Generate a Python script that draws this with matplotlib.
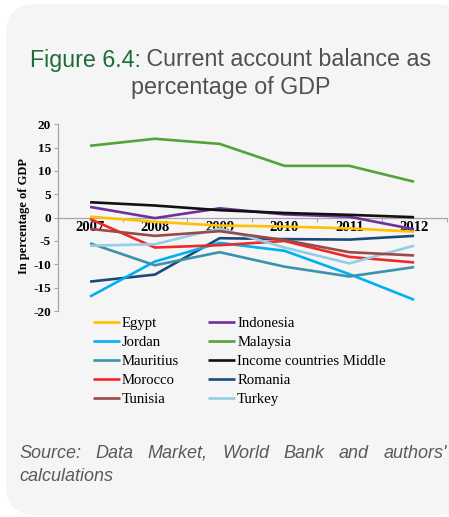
import matplotlib
matplotlib.use("Agg")
import matplotlib.pyplot as plt
from matplotlib.patches import FancyBboxPatch
from matplotlib.transforms import IdentityTransform
import numpy as np

plt.rcParams["font.family"] = ["Liberation Serif", "DejaVu Serif"]
plt.rcParams["font.weight"] = "bold"

years = ["2007", "2008", "2009", "2010", "2011", "2012"]
egypt = [0.2, -0.9, -1.7, -1.9, -2.3, -3.0]
jordan = [-16.9, -9.4, -5.4, -7.1, -12.1, -17.6]
mauritius = [-5.5, -10.2, -7.4, -10.5, -12.6, -10.6]
morocco = [-0.3, -6.4, -5.9, -5.0, -8.4, -9.6]
tunisia = [-2.4, -3.9, -2.9, -4.8, -7.4, -8.1]
indonesia = [2.3, -0.1, 2.0, 0.7, 0.2, -2.5]
malaysia = [15.4, 16.9, 15.8, 11.1, 11.1, 7.7]
middle_income = [3.3, 2.6, 1.6, 1.0, 0.6, 0.1]
romania = [-13.7, -12.2, -4.4, -4.6, -4.7, -3.9]
turkey = [-6.0, -5.7, -2.3, -6.4, -9.8, -6.0]
yticks = [-20, -15, -10, -5, 0, 5, 10, 15, 20]

series = [
    ("Egypt", egypt, "#FFC000"),
    ("Jordan", jordan, "#00B0F0"),
    ("Mauritius", mauritius, "#3A92AE"),
    ("Morocco", morocco, "#F02828"),
    ("Tunisia", tunisia, "#9B4848"),
    ("Indonesia", indonesia, "#7030A0"),
    ("Malaysia", malaysia, "#52A33A"),
    ("Income countries Middle", middle_income, "#111111"),
    ("Romania", romania, "#1B4A7A"),
    ("Turkey", turkey, "#95CDE3"),
]
draw_order = ["Malaysia", "Income countries Middle", "Indonesia", "Egypt", "Tunisia",
              "Turkey", "Morocco", "Mauritius", "Jordan", "Romania"]

W, H = 449, 517
fig = plt.figure(figsize=(W / 100, H / 100), dpi=100, facecolor="white")

panel = FancyBboxPatch((6, H - 515), 460, 511,
                       boxstyle="round,pad=0,rounding_size=30",
                       transform=IdentityTransform(), facecolor="#F5F5F5",
                       edgecolor="none", zorder=-10)
fig.patches.append(panel)

def px(x, y):
    return x / W, 1 - y / H

left, right = 57.7, 446.5
top, bottom = 124.3, 311.0
ax = fig.add_axes([left / W, 1 - bottom / H, (right - left) / W, (bottom - top) / H])
ax.set_facecolor("none")
ax.set_zorder(1)

x = np.arange(len(years))
handles = {}
for name, vals, col in series:
    (ln,) = ax.plot(x, vals, color=col, lw=1.9, label=name, solid_capstyle="butt",
                    zorder=3 + draw_order[::-1].index(name) * 0.1)
    handles[name] = ln

ax.set_xlim(-0.5, len(years) - 0.5)
ax.set_ylim(-20, 20)
ax.set_yticks(yticks)
ax.set_yticklabels([str(v) for v in yticks])
ax.set_xticks(x)
ax.set_xticklabels(years)
ax.set_xticks(np.arange(-0.5, len(years), 1.0), minor=True)
ax.tick_params(axis="x", which="major", length=0, pad=2.5, labelsize=10.5)
ax.tick_params(axis="x", which="minor", length=3, width=0.8, color="#A6A6A6", direction="out")
ax.tick_params(axis="y", length=3, width=0.8, color="#A6A6A6", pad=2, direction="out", labelsize=9.5)

for s in ["top", "right"]:
    ax.spines[s].set_visible(False)
ax.spines["bottom"].set_position(("data", 0))
ax.spines["bottom"].set_color("#A6A6A6")
ax.spines["bottom"].set_linewidth(0.9)
ax.spines["left"].set_color("#A6A6A6")
ax.spines["left"].set_linewidth(0.9)

fig.text(*px(24, 216.5), "In percentage of GDP", rotation=90, ha="center", va="center",
         fontfamily="Liberation Serif", fontweight="bold", fontsize=9)

leg = fig.legend([handles[n] for n, _, _ in series], [n for n, _, _ in series],
                 loc="upper left", bbox_to_anchor=px(93, 317), ncol=2, frameon=False,
                 prop={"family": "Liberation Serif", "size": 10.6, "weight": "normal"},
                 handlelength=1.8, handletextpad=0.15, labelspacing=0.38,
                 columnspacing=2.0, borderpad=0, borderaxespad=0)

renderer = fig.canvas.get_renderer()

tfont = dict(fontfamily="Liberation Sans", fontsize=16, fontweight="normal")
t1 = fig.text(0, 0, "Figure 6.4:", color="#1E6B3A", va="baseline", ha="left", **tfont)
t2 = fig.text(0, 0, " Current account balance as", color="#505050", va="baseline", ha="left", **tfont)
w1 = t1.get_window_extent(renderer).width
w2 = t2.get_window_extent(renderer).width
target_w = 403.0
scale = target_w / (w1 + w2)
t1.set_fontsize(16 * scale)
t2.set_fontsize(16 * scale)
w1 = t1.get_window_extent(renderer).width
w2 = t2.get_window_extent(renderer).width
cx = 230.5
x0 = cx - (w1 + w2) / 2
t1.set_position(px(x0, 66.5))
t2.set_position(px(x0 + w1, 66.5))
fig.text(*px(cx, 94), "percentage of GDP", color="#505050", va="baseline", ha="center",
         fontfamily="Liberation Sans", fontsize=16 * scale, fontweight="normal")

sfont = dict(fontfamily="Liberation Sans", fontstyle="italic", fontsize=13.0,
             color="#5A5A5A", fontweight="normal")
words = ["Source:", "Data", "Market,", "World", "Bank", "and", "authors'"]
objs = [fig.text(0, 0, w, va="baseline", ha="left", **sfont) for w in words]
widths = [o.get_window_extent(renderer).width for o in objs]
lx, rx = 19.0, 447.0
gap = (rx - lx - sum(widths)) / (len(words) - 1)
cur = lx
for o, wd in zip(objs, widths):
    o.set_position(px(cur, 458))
    cur += wd + gap
fig.text(*px(lx, 481), "calculations", va="baseline", ha="left", **sfont)

fig.savefig("out.png", dpi=100, facecolor="white")
